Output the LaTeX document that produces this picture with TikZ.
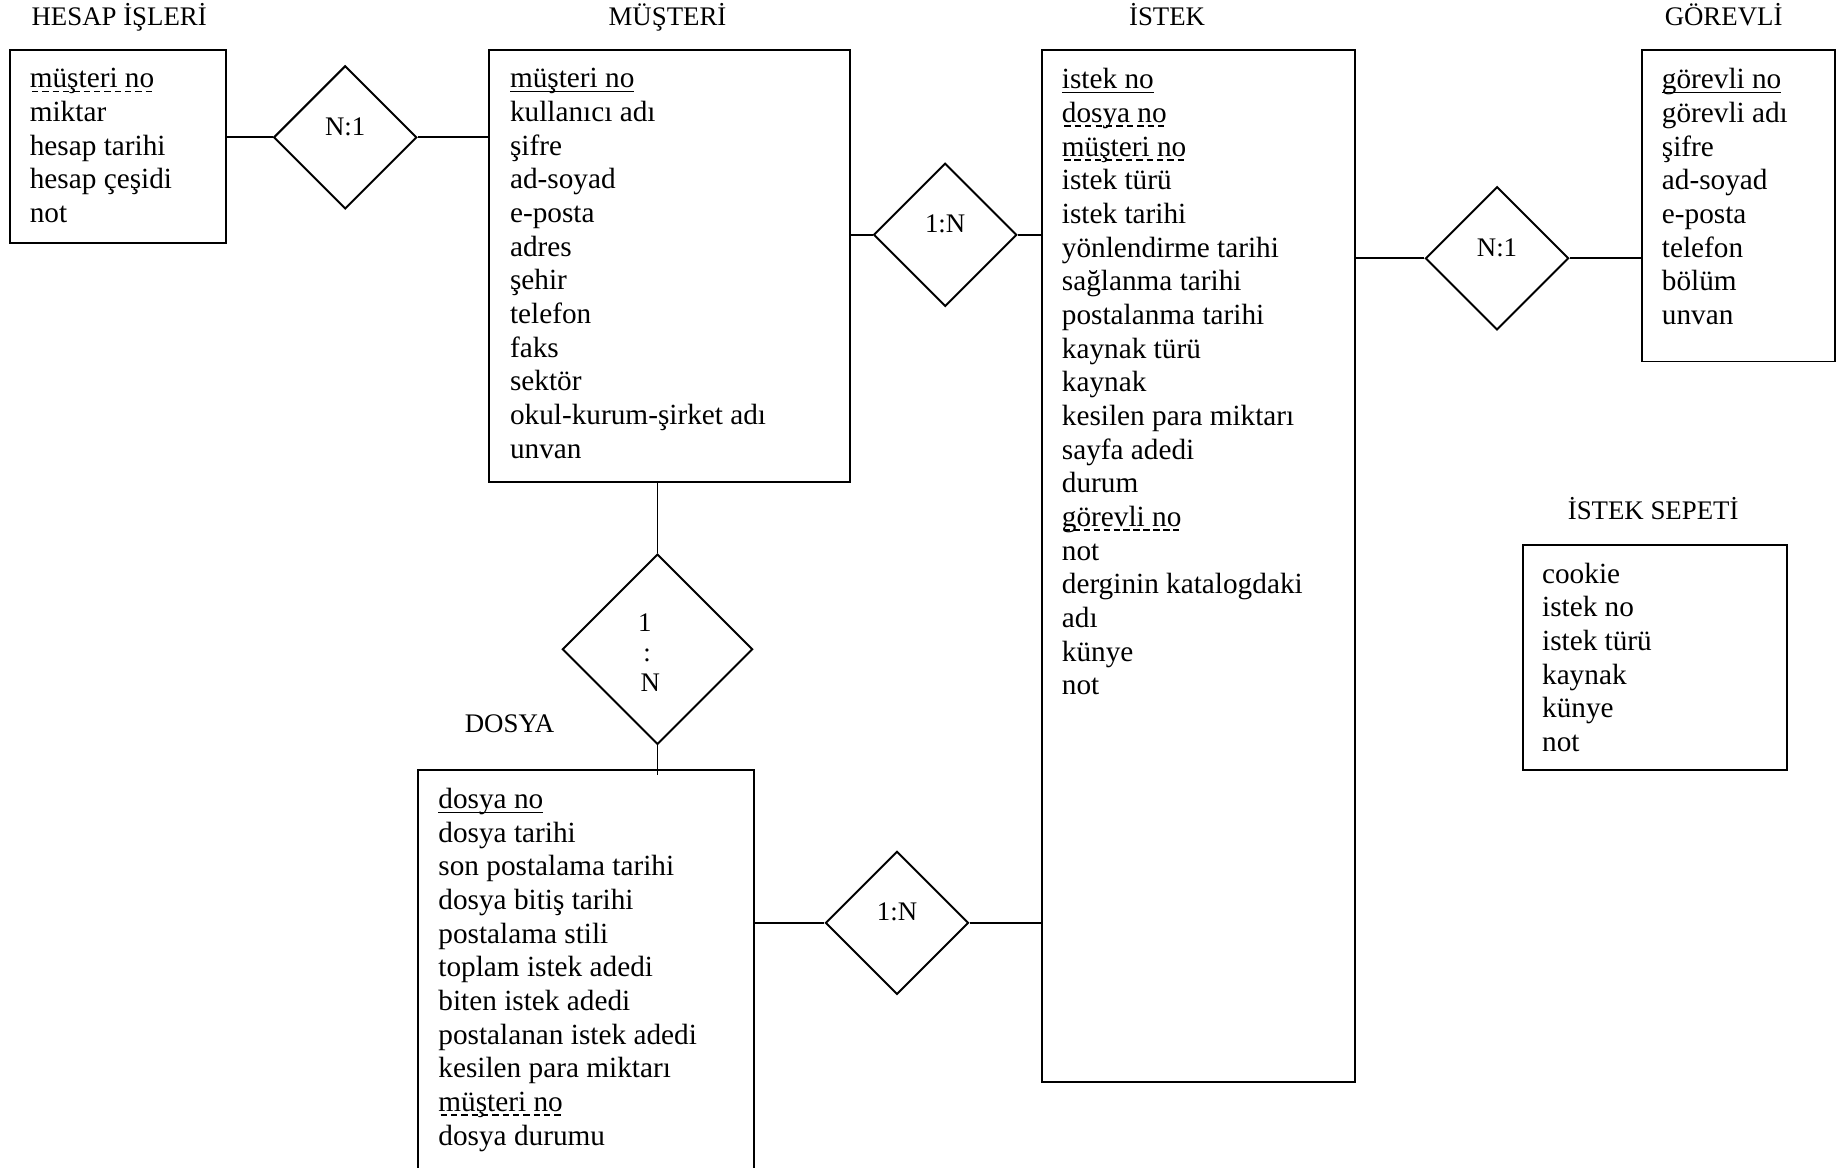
\documentclass[tikz,border=0pt]{standalone}
\usepackage{fontspec}
\setmainfont{Liberation Serif}
\usetikzlibrary{shapes.geometric,positioning}
\tikzset{
  ent/.style ={rectangle, draw=black, line width=0.8pt, anchor=north west, inner sep=0pt},
  attr/.style={anchor=north west, align=left, inner sep=0pt, font=\fontsize{12}{13.8}\selectfont},
  ttl/.style ={anchor=base, inner sep=0pt, font=\fontsize{11}{13}\selectfont},
  rel/.style ={diamond, aspect=1, draw=black, line width=0.8pt, inner sep=0pt,
               align=center, font=\fontsize{11}{12.3}\selectfont},
  relh/.style={rel, minimum size=58.7pt, text depth=9pt},
  ln/.style  ={draw=black, line width=0.8pt},
}
\newsavebox\keybox
% primary key: solid underline, foreign key: dashed underline
\newcommand{\pkey}[1]{\sbox\keybox{#1}%
  \makebox[0pt][l]{\raisebox{-1.8pt}{\rule{\wd\keybox}{0.6pt}}}\usebox\keybox}
\newcommand{\fkey}[1]{\sbox\keybox{#1}%
  \makebox[0pt][l]{\raisebox{-1.8pt}{\hbox to \wd\keybox{\xleaders\hbox to 4pt{\hss\rule{2.6pt}{0.6pt}\hss}\hfill}}}\usebox\keybox}

\begin{document}
\begin{tikzpicture}[x=0.4814pt, y=-0.4814pt]
  \useasboundingbox (0,0) rectangle (1568,994);
  \clip (0,0) rectangle (1568,994);
  % entity boxes
  \node[ent, minimum width=88.6pt, minimum height=78.9pt] (hes) at (8,42) {};
  \node[ent, minimum width=147.8pt, minimum height=177.2pt] (mus) at (416,42) {};
  \node[ent, minimum width=128.1pt, minimum height=423.2pt] (ist) at (887,42) {};
  \node[ent, minimum width=78.9pt, minimum height=127.6pt] (gor) at (1398,42) {};
  \node[ent, minimum width=108.3pt, minimum height=92.4pt] (sep) at (1296,463) {};
  \node[ent, minimum width=137.7pt, minimum height=175pt] (dos) at (355,655) {};
  % titles
  \node[ttl] (hesT) at (101.5,21.5) {HESAP İŞLERİ};
  \node[ttl] (musT) at (568.5,21.5) {MÜŞTERİ};
  \node[ttl] (istT) at (994,21.5) {İSTEK};
  \node[ttl] (gorT) at (1468,21.5) {GÖREVLİ};
  \node[ttl] (sepT) at (1408,442.5) {İSTEK SEPETİ};
  \node[ttl] (dosT) at (434,623.5) {DOSYA};
  % attributes
  \node[attr] (hesA) at ([shift={(17,16)}]hes.north west)
    {\fkey{müşteri no}\\miktar\\hesap tarihi\\hesap çeşidi\\not};
  \node[attr] (musA) at ([shift={(18,16)}]mus.north west)
    {\pkey{müşteri no}\\kullanıcı adı\\şifre\\ad-soyad\\e-posta\\adres\\şehir\\telefon\\faks\\sektör\\okul-kurum-şirket adı\\unvan};
  \node[attr] (istA) at ([shift={(17,16)}]ist.north west)
    {\pkey{istek no}\\\fkey{dosya no}\\\fkey{müşteri no}\\istek türü\\istek tarihi\\yönlendirme tarihi\\sağlanma tarihi\\postalanma tarihi\\kaynak türü\\kaynak\\kesilen para miktarı\\sayfa adedi\\durum\\\fkey{görevli no}\\not\\derginin katalogdaki\\adı\\künye\\not};
  \node[attr] (gorA) at ([shift={(17,16)}]gor.north west)
    {\pkey{görevli no}\\görevli adı\\şifre\\ad-soyad\\e-posta\\telefon\\bölüm\\unvan};
  \node[attr] (sepA) at ([shift={(17,16)}]sep.north west)
    {cookie\\istek no\\istek türü\\kaynak\\künye\\not};
  \node[attr] (dosA) at ([shift={(18,16)}]dos.north west)
    {\pkey{dosya no}\\dosya tarihi\\son postalama tarihi\\dosya bitiş tarihi\\postalama stili\\toplam istek adedi\\biten istek adedi\\postalanan istek adedi\\kesilen para miktarı\\\fkey{müşteri no}\\dosya durumu};
  % relationships
  \node[relh] (hesMus) at (294,117) {N:1};
  \node[relh] (musIst) at (805,200) {1:N};
  \node[relh] (istGor) at (1275,220) {N:1};
  \node[relh] (dosIst) at (764,786) {1:N};
  \node[rel, minimum size=78pt] (musDos) at (560,553)
    {\hspace*{-8pt}\rule{0pt}{10.4pt}1\\\hspace*{-6pt}:\\\hspace*{-6pt}N};
  % connectors
  \draw[ln] (hesMus.west) -- (hesMus.west -| hes.east);
  \draw[ln] (hesMus.east) -- (hesMus.east -| mus.west);
  \draw[ln] (musIst.west) -- (musIst.west -| mus.east);
  \draw[ln] (musIst.east) -- (musIst.east -| ist.west);
  \draw[ln] (istGor.west) -- (istGor.west -| ist.east);
  \draw[ln] (istGor.east) -- (istGor.east -| gor.west);
  \draw[ln] (dosIst.west) -- (dosIst.west -| dos.east);
  \draw[ln] (dosIst.east) -- (dosIst.east -| ist.west);
  \draw[ln] (musDos.north) -- (musDos.north |- mus.south);
  \draw[ln] (musDos.south) -- ([yshift=-2.4pt]musDos.south |- dos.north);
\end{tikzpicture}
\end{document}
